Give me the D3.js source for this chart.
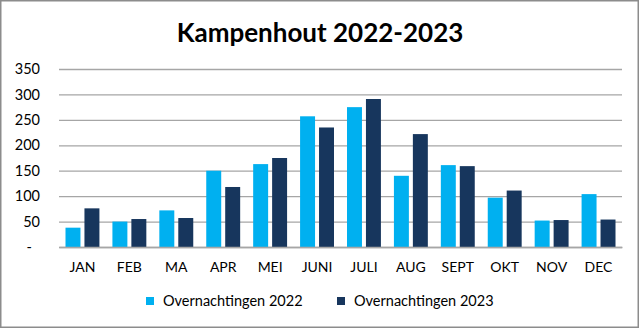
<!DOCTYPE html>
<html><head><meta charset="utf-8">
<script src="https://cdn.jsdelivr.net/npm/d3@7"></script>
<style>
html,body{margin:0;padding:0;background:#fff;}
svg{display:block;font-family:Lato,"Open Sans",sans-serif;}
</style></head>
<body>
<svg id="chart" width="640" height="328"></svg>
<script>
const categories = ["JAN","FEB","MA","APR","MEI","JUNI","JULI","AUG","SEPT","OKT","NOV","DEC"];
const seriesNames = ["Overnachtingen 2022","Overnachtingen 2023"];
const values2022 = [38,50,72,150,163,257,275,140,161,97,52,104];
const values2023 = [76,55,57,118,175,235,291,222,159,111,53,54];
const yTicks = [0,50,100,150,200,250,300,350];
const colors = ["#00B0F0","#17365D"];
const title = "Kampenhout 2022-2023";

const svg = d3.select("#chart");
const W = 640, H = 328;
const m = {left:59, right:18, top:69, bottom:81};

svg.append("rect").attr("x",0.75).attr("y",0.75).attr("width",W-2.5).attr("height",H-1.5)
  .attr("fill","#fff").attr("stroke","#8c8c8c").attr("stroke-width",1.5);

svg.append("text").attr("x",320).attr("y",42).attr("text-anchor","middle")
  .attr("font-size",26).attr("font-weight","bold").attr("fill","#000").text(title);

const x0 = d3.scaleBand().domain(categories).range([m.left, W-m.right]).padding(0);
const inner = x0.bandwidth();
const x1 = d3.scaleBand().domain(seriesNames).range([6.5, inner-6.5]).paddingInner(4/19).paddingOuter(0);
const y = d3.scaleLinear().domain([0,350]).range([H-m.bottom, m.top]);

// grid
const yAxis = d3.axisLeft(y).tickValues(yTicks).tickSize(-(W-m.left-m.right))
  .tickFormat(d => d===0 ? "-" : d);
const gy = svg.append("g").attr("transform",`translate(${m.left},0)`).call(yAxis);
gy.select(".domain").remove();
gy.selectAll(".tick line").attr("stroke","#a6a6a6").attr("stroke-width",1.3);
gy.selectAll(".tick text").attr("x",-19).attr("font-size",14.5).attr("fill","#000")
  .attr("font-family","Lato,sans-serif");
gy.selectAll(".tick text").filter(d=>d===0).attr("x",-27);

const data = categories.map((c,i)=>({cat:c, vals:[values2022[i], values2023[i]]}));
const groups = svg.append("g").selectAll("g").data(data).join("g")
  .attr("transform", d=>`translate(${x0(d.cat)},0)`);
groups.selectAll("rect").data(d=>d.vals.map((v,j)=>({s:seriesNames[j], v, j})))
  .join("rect")
  .attr("x", d=>x1(d.s)).attr("width", x1.bandwidth())
  .attr("y", d=>y(d.v)).attr("height", d=>y(0)-y(d.v))
  .attr("fill", d=>colors[d.j]);

// x axis
const xAxis = d3.axisBottom(x0).tickSize(0).tickPadding(15);
const gx = svg.append("g").attr("transform",`translate(0,${y(0)})`).call(xAxis);
gx.select(".domain").attr("stroke","#a6a6a6").attr("stroke-width",1.3);
gx.selectAll(".tick text").attr("font-size",14).attr("fill","#000").attr("font-family","Lato,sans-serif");

// legend
const legendX = [146, 337];
const lg = svg.append("g").selectAll("g").data(seriesNames).join("g")
  .attr("transform",(d,i)=>`translate(${legendX[i]},297)`);
lg.append("rect").attr("width",8).attr("height",8).attr("fill",(d,i)=>colors[i]);
lg.append("text").attr("x",17).attr("y",9).attr("font-size",14.5).attr("fill","#000").text(d=>d);
</script>
</body></html>
